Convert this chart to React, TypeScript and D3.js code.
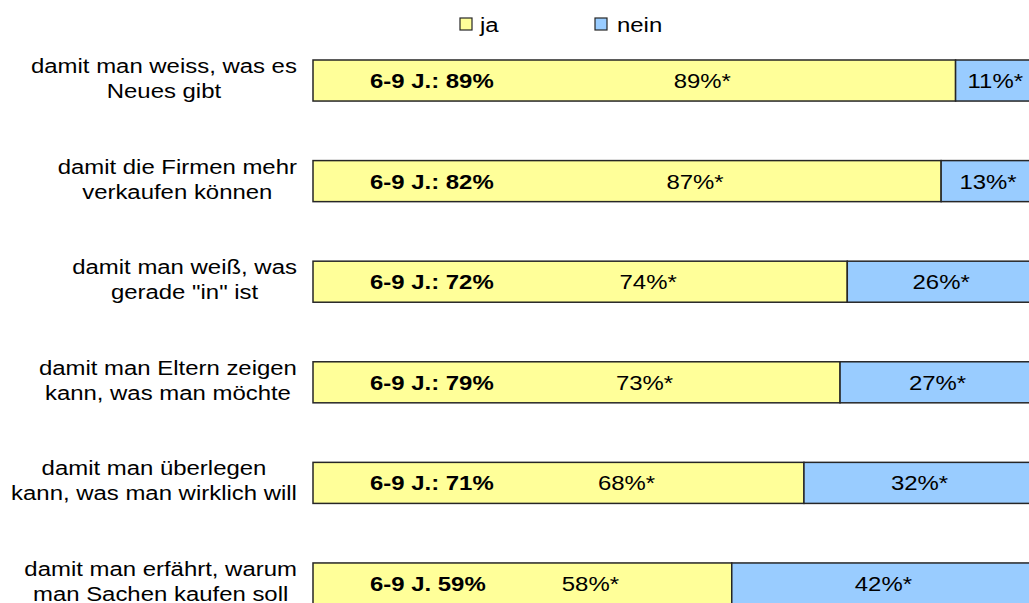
import { useRef, useEffect } from "react";
import { select, scaleLinear, scaleBand } from "d3";

// question labels, already split into two lines each
const categories = [
  ["damit man weiss, was es", "Neues gibt"],
  ["damit die Firmen mehr", "verkaufen können"],
  ["damit man weiß, was", "gerade \"in\" ist"],
  ["damit man Eltern zeigen", "kann, was man möchte"],
  ["damit man überlegen", "kann, was man wirklich will"],
  ["damit man erfährt, warum", "man Sachen kaufen soll"],
];
const ja = [89, 87, 74, 73, 68, 58];
const nein = [11, 13, 26, 27, 32, 42];
const ageLabels = ["6-9 J.: 89%", "6-9 J.: 82%", "6-9 J.: 72%", "6-9 J.: 79%", "6-9 J.: 71%", "6-9 J. 59%"];
const seriesNames = ["ja", "nein"];

const W = 1029;
const H = 603;
const SX = 1.14; // the original is stretched sideways
const FONT = "'Liberation Sans', Arial, sans-serif";
const YELLOW = "#ffff99";
const BLUE = "#99ccff";
const EDGE = "#262626";

export default function App() {
  const svgRef = useRef(null);

  useEffect(() => {
    const svg = select(svgRef.current);
    svg.selectAll("*").remove();

    const x = scaleLinear().domain([0, 100]).range([313, 1035]);
    const y = scaleBand()
      .domain(categories.map((_, i) => String(i)))
      .range([60, 604])
      .paddingInner(0.592)
      .paddingOuter(0);
    const bh = y.bandwidth();

    const rows = svg
      .selectAll("g.row")
      .data(categories)
      .join("g")
      .attr("class", "row")
      .attr("transform", (_, i) => `translate(0,${y(String(i))})`);

    // yellow part
    rows
      .append("rect")
      .attr("x", x(0))
      .attr("y", 0)
      .attr("width", (_, i) => x(ja[i]) - x(0))
      .attr("height", bh)
      .attr("fill", YELLOW)
      .attr("stroke", EDGE)
      .attr("stroke-width", 1.5);

    // blue part
    rows
      .append("rect")
      .attr("x", (_, i) => x(ja[i]))
      .attr("y", 0)
      .attr("width", (_, i) => x(ja[i] + nein[i]) - x(ja[i]))
      .attr("height", bh)
      .attr("fill", BLUE)
      .attr("stroke", EDGE)
      .attr("stroke-width", 1.5);

    // bold age group label
    rows
      .append("text")
      .attr("transform", `translate(370,${bh / 2 + 7.5}) scale(${SX},1)`)
      .attr("font-family", FONT)
      .attr("font-size", 21)
      .attr("font-weight", "bold")
      .attr("fill", "#000")
      .text((_, i) => ageLabels[i]);

    // value labels
    rows
      .append("text")
      .attr("transform", (_, i) => `translate(${(x(0) + x(ja[i])) / 2 + 68},${bh / 2 + 7.5}) scale(${SX},1)`)
      .attr("text-anchor", "middle")
      .attr("font-family", FONT)
      .attr("font-size", 21)
      .attr("fill", "#000")
      .text((_, i) => `${ja[i]}%*`);

    rows
      .append("text")
      .attr("transform", (_, i) => `translate(${(x(ja[i]) + x(ja[i] + nein[i])) / 2},${bh / 2 + 7.5}) scale(${SX},1)`)
      .attr("text-anchor", "middle")
      .attr("font-family", FONT)
      .attr("font-size", 21)
      .attr("fill", "#000")
      .text((_, i) => `${nein[i]}%*`);

    // category labels: centered lines, block right-aligned at 297
    rows.each(function (lines) {
      const g = select(this)
        .append("g")
        .attr("font-family", FONT)
        .attr("font-size", 21)
        .attr("fill", "#000");
      const texts = g
        .selectAll("text")
        .data(lines)
        .join("text")
        .attr("text-anchor", "middle")
        .attr("x", 0)
        .attr("y", (_, j) => (j === 0 ? -7.5 : 17.5))
        .text((d) => d);
      let maxW = 0;
      texts.each(function () {
        maxW = Math.max(maxW, this.getComputedTextLength() * SX);
      });
      g.attr("transform", `translate(${297 - maxW / 2},${bh / 2}) scale(${SX},1)`);
    });

    // legend
    const legendX = [460, 595];
    const legend = svg
      .selectAll("g.legend")
      .data(seriesNames)
      .join("g")
      .attr("class", "legend")
      .attr("transform", (_, i) => `translate(${legendX[i]},18)`);
    legend
      .append("rect")
      .attr("width", 12)
      .attr("height", 12)
      .attr("fill", (_, i) => (i === 0 ? YELLOW : BLUE))
      .attr("stroke", EDGE)
      .attr("stroke-width", 1.2);
    legend
      .append("text")
      .attr("transform", (_, i) => `translate(${i === 0 ? 20 : 22},13.5) scale(${SX},1)`)
      .attr("font-family", FONT)
      .attr("font-size", 21)
      .attr("fill", "#000")
      .text((d) => d);
  }, []);

  return (
    <svg
      ref={svgRef}
      width={W}
      height={H}
      style={{ position: "absolute", left: 0, top: 0, background: "#fff", display: "block" }}
    />
  );
}
